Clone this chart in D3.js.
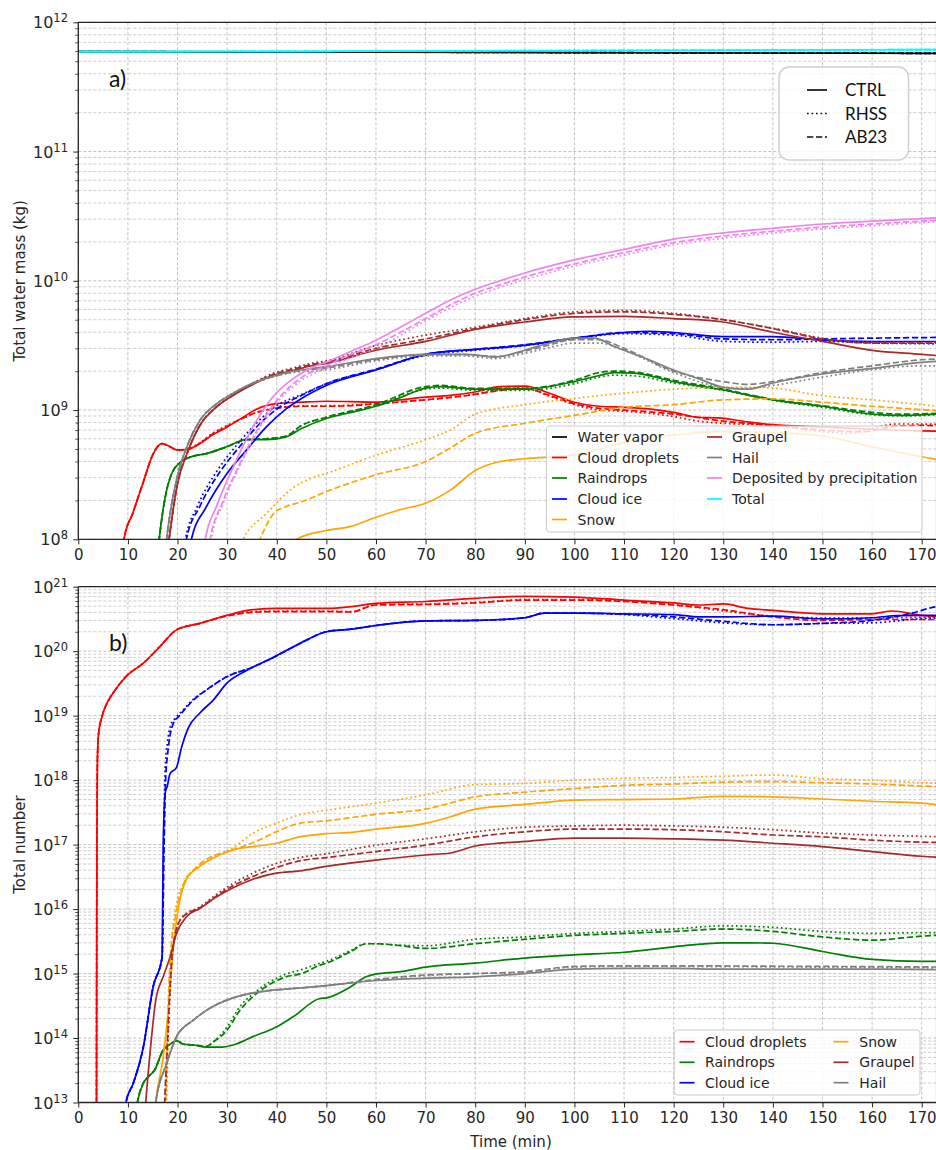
<!DOCTYPE html>
<html>
<head>
<meta charset="utf-8">
<script src="https://cdn.jsdelivr.net/npm/d3@7"></script>
<style>
  body { margin: 0; background: #fff; }
  svg { display: block; }
</style>
</head>
<body>
<svg id="fig" width="936" height="1150"></svg>
<script>
// ---- Time series, [minutes, value] ----------------------------------------
// (a) total water mass per hydrometeor class (kg)
const massVapor = [[0,5.93e11],[45,5.9e11],[100,5.83e11],[175,5.75e11]];
const massTotal = [[0,5.93e11],[45,5.96e11],[100,6.05e11],[175,6.15e11]];

const massCloudCTRL = [[8,3e7],[9.2,1e8],[11,1.6e8],[13,2.7e8],[15,4.5e8],[16.8,5.5e8],[18.5,5.2e8],[20,4.9e8],[22,4.95e8],[24.5,5.5e8],[27,6.4e8],[30,7.4e8],[33,8.7e8],[36,1.02e9],[40,1.12e9],[45,1.15e9],[50,1.17e9],[55,1.16e9],[60,1.15e9],[65,1.2e9],[70,1.26e9],[75,1.3e9],[80,1.38e9],[85,1.52e9],[90,1.53e9],[95,1.35e9],[100,1.15e9],[105,1.07e9],[110,1.05e9],[115,1.02e9],[120,9.6e8],[125,8.8e8],[129,8.7e8],[135,8.1e8],[140,7.7e8],[150,7.4e8],[160,7.1e8],[170,6.9e8],[175,6.85e8]];
const massCloudRHSS = [[8,3e7],[9.2,1e8],[11,1.6e8],[13,2.7e8],[15,4.5e8],[16.8,5.5e8],[18.5,5.2e8],[20,4.9e8],[22,5.0e8],[24.5,5.6e8],[27,6.6e8],[30,7.6e8],[33,8.6e8],[36,9.6e8],[40,1.04e9],[45,1.08e9],[50,1.08e9],[60,1.12e9],[70,1.2e9],[80,1.33e9],[85,1.45e9],[90,1.48e9],[95,1.28e9],[100,1.1e9],[105,1.0e9],[110,9.8e8],[120,8.9e8],[125,8.2e8],[130,7.9e8],[140,7.6e8],[150,6.8e8],[155,6.6e8],[160,7.2e8],[165,7.8e8],[170,7.8e8],[175,7.7e8]];
const massCloudAB23 = [[8,3e7],[9.2,1e8],[11,1.6e8],[13,2.7e8],[15,4.5e8],[16.8,5.5e8],[18.5,5.2e8],[20,4.9e8],[22,4.95e8],[24.5,5.5e8],[27,6.5e8],[30,7.5e8],[33,8.6e8],[36,9.6e8],[40,1.03e9],[45,1.07e9],[50,1.07e9],[55,1.08e9],[60,1.12e9],[70,1.2e9],[80,1.32e9],[85,1.42e9],[90,1.46e9],[95,1.3e9],[100,1.12e9],[105,1.03e9],[110,1.0e9],[120,9.3e8],[130,8.2e8],[140,7.6e8],[150,7.0e8],[158,6.8e8],[165,7.5e8],[170,7.6e8],[175,7.5e8]];

const massRainCTRL = [[15.5,5e7],[16.3,1e8],[17.5,2.1e8],[18.8,3.2e8],[20.8,4e8],[23.2,4.4e8],[25.8,4.6e8],[29.9,5.2e8],[33.9,5.9e8],[37.9,5.9e8],[41.9,6.2e8],[45,7.2e8],[50,8.6e8],[55,9.6e8],[60,1.07e9],[65,1.25e9],[70,1.48e9],[73,1.52e9],[80,1.45e9],[90,1.45e9],[100,1.66e9],[105,1.85e9],[108,1.95e9],[112,1.93e9],[120,1.66e9],[130,1.43e9],[140,1.2e9],[150,1.07e9],[160,9.3e8],[166,9.1e8],[175,9.4e8]];
const massRainRHSS = [[15.5,5e7],[16.3,1e8],[17.5,2.1e8],[18.8,3.2e8],[20.8,4e8],[23.2,4.4e8],[25.8,4.6e8],[29.9,5.2e8],[33.9,5.9e8],[37.9,6.0e8],[41.9,6.3e8],[45,7.6e8],[50,8.8e8],[60,1.08e9],[70,1.45e9],[73,1.48e9],[80,1.42e9],[90,1.42e9],[100,1.6e9],[105,1.8e9],[108,1.86e9],[112,1.84e9],[120,1.62e9],[130,1.42e9],[140,1.19e9],[150,1.05e9],[160,9.2e8],[166,9.0e8],[175,9.3e8]];
const massRainAB23 = [[15.5,5e7],[16.3,1e8],[17.5,2.1e8],[18.8,3.2e8],[20.8,4e8],[23.2,4.4e8],[25.8,4.6e8],[29.9,5.2e8],[33.9,5.9e8],[37.9,6.0e8],[41.9,6.3e8],[45,7.6e8],[50,8.8e8],[60,1.1e9],[70,1.52e9],[73,1.55e9],[80,1.47e9],[90,1.47e9],[100,1.7e9],[105,1.95e9],[108,2.0e9],[112,1.97e9],[120,1.7e9],[130,1.45e9],[140,1.21e9],[150,1.08e9],[160,9.6e8],[166,9.3e8],[175,9.5e8]];

const massIceCTRL = [[22,6e7],[22.8,1e8],[25.8,1.78e8],[29.9,3.2e8],[33.9,4.9e8],[37.9,7.4e8],[41.9,1.02e9],[45,1.23e9],[50,1.55e9],[60,2.04e9],[70,2.7e9],[80,2.95e9],[90,3.16e9],[100,3.6e9],[110,3.98e9],[115,4.07e9],[120,3.98e9],[130,3.7e9],[140,3.7e9],[150,3.47e9],[160,3.39e9],[175,3.39e9]];
const massIceRHSS = [[20.8,6e7],[21.6,1e8],[24,1.8e8],[28,3.4e8],[32,5.4e8],[36,8e8],[40,1.08e9],[45,1.32e9],[50,1.6e9],[60,2.05e9],[70,2.65e9],[80,2.9e9],[90,3.15e9],[100,3.55e9],[110,3.9e9],[120,3.8e9],[130,3.4e9],[140,3.35e9],[150,3.4e9],[160,3.3e9],[175,3.25e9]];
const massIceAB23 = [[21,6e7],[21.8,1e8],[24.5,1.8e8],[28.5,3.3e8],[32.5,5.2e8],[36.5,7.8e8],[40.5,1.05e9],[45,1.3e9],[50,1.6e9],[60,2.07e9],[70,2.7e9],[80,2.95e9],[90,3.2e9],[100,3.6e9],[110,3.98e9],[120,3.9e9],[130,3.55e9],[140,3.5e9],[150,3.55e9],[160,3.6e9],[175,3.65e9]];

const massSnowCTRL = [[42,7e7],[44,1e8],[50,1.17e8],[55,1.26e8],[60,1.48e8],[65,1.7e8],[70,1.9e8],[75,2.4e8],[80,3.4e8],[85,4e8],[90,4.2e8],[100,4.5e8],[105,5e8],[110,5.6e8],[120,6.4e8],[130,6.8e8],[140,6.7e8],[150,6.3e8],[160,5.2e8],[175,4e8]];
const massSnowRHSS = [[31.5,7e7],[33.2,1e8],[37.9,1.58e8],[43.3,2.5e8],[47.3,3e8],[50,3.24e8],[60,4.47e8],[70,5.9e8],[75,7e8],[80,9.3e8],[90,1.1e9],[100,1.23e9],[110,1.35e9],[125,1.48e9],[135,1.5e9],[140,1.48e9],[150,1.29e9],[160,1.2e9],[175,1.05e9]];
const massSnowAB23 = [[35,7e7],[36.6,1e8],[39.5,1.6e8],[42,1.8e8],[45,1.95e8],[50,2.34e8],[60,3.16e8],[70,4e8],[75,5.1e8],[80,6.6e8],[90,7.9e8],[100,9.1e8],[110,1.05e9],[120,1.1e9],[130,1.2e9],[140,1.22e9],[150,1.15e9],[160,1.07e9],[175,9.8e8]];

const massGraupelCTRL = [[17.6,6e7],[18.3,1e8],[20,2.7e8],[22,4.7e8],[24.5,7.6e8],[28,1.07e9],[31.2,1.3e9],[35.2,1.58e9],[39.2,1.85e9],[43.3,2.02e9],[47,2.2e9],[50,2.3e9],[60,2.9e9],[70,3.4e9],[80,4.2e9],[90,4.8e9],[100,5.25e9],[110,5.3e9],[120,5.1e9],[130,4.8e9],[140,4.0e9],[150,3.4e9],[160,2.9e9],[170,2.7e9],[175,2.6e9]];
const massGraupelRHSS = [[17.6,6e7],[18.3,1e8],[20,2.7e8],[22,4.7e8],[24.5,7.6e8],[28,1.07e9],[31.2,1.3e9],[35.2,1.62e9],[39.2,1.92e9],[43.3,2.12e9],[47,2.3e9],[50,2.4e9],[60,3.16e9],[70,3.8e9],[80,4.37e9],[90,5.1e9],[100,5.75e9],[110,5.9e9],[120,5.6e9],[130,5.0e9],[140,4.3e9],[150,3.6e9],[160,3.35e9],[175,3.35e9]];
const massGraupelAB23 = [[17.6,6e7],[18.3,1e8],[20,2.7e8],[22,4.7e8],[24.5,7.6e8],[28,1.07e9],[31.2,1.3e9],[35.2,1.6e9],[39.2,1.88e9],[43.3,2.07e9],[47,2.25e9],[50,2.35e9],[60,3.0e9],[70,3.55e9],[80,4.27e9],[90,5.0e9],[100,5.6e9],[110,5.75e9],[120,5.5e9],[130,5.0e9],[140,4.27e9],[150,3.55e9],[160,3.3e9],[175,3.3e9]];

const massHailCTRL = [[17.2,6e7],[17.8,1e8],[19.8,2.9e8],[21.8,5.1e8],[24.5,8.3e8],[27.9,1.12e9],[31.2,1.35e9],[35.2,1.62e9],[39.2,1.82e9],[43.3,2.0e9],[47.3,2.1e9],[50,2.17e9],[60,2.5e9],[70,2.7e9],[78,2.7e9],[84,2.57e9],[90,2.9e9],[95,3.3e9],[100,3.6e9],[104,3.6e9],[108,3.1e9],[115,2.45e9],[120,2.04e9],[125,1.75e9],[130,1.5e9],[135,1.45e9],[140,1.62e9],[150,1.9e9],[160,2.1e9],[170,2.34e9],[175,2.4e9]];
const massHailRHSS = [[17.2,6e7],[17.8,1e8],[19.8,2.9e8],[21.8,5.1e8],[24.5,8.3e8],[27.9,1.12e9],[31.2,1.35e9],[35.2,1.6e9],[39.2,1.8e9],[43.3,1.95e9],[47.3,2.0e9],[50,2.05e9],[60,2.4e9],[70,2.62e9],[78,2.62e9],[84,2.5e9],[90,2.75e9],[95,3.05e9],[100,3.3e9],[105,3.3e9],[110,2.9e9],[120,1.95e9],[130,1.5e9],[135,1.47e9],[140,1.55e9],[150,1.8e9],[160,2.05e9],[170,2.2e9],[175,2.2e9]];
const massHailAB23 = [[17.2,6e7],[17.8,1e8],[19.8,2.9e8],[21.8,5.1e8],[24.5,8.3e8],[27.9,1.12e9],[31.2,1.35e9],[35.2,1.61e9],[39.2,1.81e9],[43.3,1.98e9],[47.3,2.06e9],[50,2.12e9],[60,2.45e9],[70,2.68e9],[78,2.68e9],[84,2.6e9],[90,2.85e9],[95,3.2e9],[100,3.5e9],[105,3.5e9],[110,3.0e9],[120,2.0e9],[130,1.66e9],[135,1.58e9],[140,1.66e9],[150,1.95e9],[160,2.2e9],[170,2.45e9],[175,2.5e9]];

const massDepositCTRL = [[25,6e7],[25.6,1e8],[27.8,1.78e8],[31.2,3.6e8],[35.2,7.4e8],[39.2,1.26e9],[43.3,1.75e9],[47.3,2.15e9],[50,2.35e9],[55,2.85e9],[60,3.47e9],[65,4.4e9],[70,5.6e9],[75,7.1e9],[80,8.6e9],[85,1.0e10],[90,1.15e10],[100,1.45e10],[110,1.75e10],[120,2.1e10],[130,2.35e10],[140,2.55e10],[150,2.75e10],[160,2.9e10],[175,3.1e10]];
const massDepositRHSS = [[26.2,6e7],[26.8,1e8],[29.2,1.9e8],[32.7,3.8e8],[36.7,7.4e8],[40.7,1.22e9],[45,1.7e9],[50,2.1e9],[55,2.55e9],[60,3.0e9],[65,3.8e9],[70,4.9e9],[75,6.2e9],[80,7.6e9],[85,8.9e9],[90,1.02e10],[100,1.3e10],[110,1.58e10],[120,1.9e10],[130,2.14e10],[140,2.34e10],[150,2.52e10],[160,2.67e10],[175,2.9e10]];
const massDepositAB23 = [[26,6e7],[26.6,1e8],[29,1.9e8],[32.5,3.8e8],[36.5,7.5e8],[40.5,1.25e9],[45,1.78e9],[50,2.2e9],[55,2.7e9],[60,3.2e9],[65,4.0e9],[70,5.1e9],[75,6.5e9],[80,8.0e9],[85,9.3e9],[90,1.07e10],[100,1.35e10],[110,1.65e10],[120,1.97e10],[130,2.22e10],[140,2.42e10],[150,2.6e10],[160,2.75e10],[175,2.97e10]];

// (b) total number of particles per hydrometeor class
const numCloudCTRL = [[3.65,1e12],[3.75,1e17],[3.85,2e18],[4.1,5.4e18],[4.8,9.8e18],[6.1,1.74e19],[7,2.24e19],[9.7,4.1e19],[13.1,6.5e19],[16.4,1.17e20],[19.8,2.14e20],[24.5,2.7e20],[29.9,3.6e20],[35.2,4.4e20],[40,4.6e20],[45,4.6e20],[50,4.6e20],[55,4.9e20],[60,5.5e20],[70,5.9e20],[80,6.6e20],[90,7.1e20],[100,6.9e20],[110,6.2e20],[120,5.6e20],[125,5.2e20],[130,5.4e20],[135,4.6e20],[140,4.3e20],[150,3.8e20],[160,3.8e20],[164,4.2e20],[170,3.6e20],[175,3.4e20]];
const numCloudRHSS = [[3.65,1e12],[3.75,1e17],[3.85,2e18],[4.1,5.4e18],[4.8,9.8e18],[6.1,1.74e19],[7,2.24e19],[9.7,4.1e19],[13.1,6.5e19],[16.4,1.17e20],[19.8,2.14e20],[24.5,2.7e20],[30,3.55e20],[35,4.1e20],[40,4.2e20],[50,4.2e20],[55,4.1e20],[60,5.3e20],[70,5.4e20],[80,5.7e20],[90,6.3e20],[100,6.3e20],[110,6.0e20],[120,5.3e20],[130,4.2e20],[140,3.5e20],[150,3.3e20],[160,3.3e20],[175,3.4e20]];
const numCloudAB23 = [[3.65,1e12],[3.75,1e17],[3.85,2e18],[4.1,5.4e18],[4.8,9.8e18],[6.1,1.74e19],[7,2.24e19],[9.7,4.1e19],[13.1,6.5e19],[16.4,1.17e20],[19.8,2.14e20],[24.5,2.7e20],[29.9,3.5e20],[35.2,4.0e20],[40,4.1e20],[50,4.1e20],[55,4.05e20],[60,5.2e20],[70,5.3e20],[80,5.6e20],[90,6.2e20],[100,6.2e20],[110,5.9e20],[120,5.2e20],[130,4.4e20],[140,3.4e20],[150,3.0e20],[160,3.1e20],[175,3.1e20]];

const numRainCTRL = [[11.3,5e12],[11.9,1e13],[13.1,2e13],[14.1,2.5e13],[15.4,3.2e13],[17.1,6.5e13],[18.5,8e13],[19.8,9.1e13],[21.2,8e13],[23.2,7.8e13],[25.8,7.2e13],[28.5,7.2e13],[31.2,7.8e13],[35.2,1.05e14],[39.9,1.48e14],[43.3,2.14e14],[48.7,4.1e14],[50,4.2e14],[55,6.3e14],[58,8.9e14],[60,9.8e14],[65,1.07e15],[70,1.26e15],[80,1.45e15],[90,1.74e15],[100,1.95e15],[110,2.14e15],[120,2.6e15],[130,3.0e15],[135,3.0e15],[140,2.95e15],[150,2.2e15],[160,1.66e15],[170,1.55e15],[175,1.55e15]];
const numRainRHSS = [[11.3,5e12],[11.9,1e13],[13.1,2e13],[14.1,2.5e13],[15.4,3.2e13],[17.1,6.5e13],[18.5,8e13],[19.8,9.1e13],[21.2,8e13],[23.2,7.8e13],[25.8,7.4e13],[27.2,8.7e13],[29.9,1.45e14],[32.6,3.1e14],[35.2,4.8e14],[37.9,6.9e14],[41.9,9.8e14],[45,1.15e15],[48.7,1.45e15],[50,1.55e15],[55,2.3e15],[58,2.9e15],[60,2.9e15],[65,2.75e15],[70,2.7e15],[80,3.4e15],[90,3.7e15],[100,4.2e15],[110,4.5e15],[120,4.9e15],[130,5.5e15],[140,5.2e15],[150,4.5e15],[160,4.2e15],[170,4.3e15],[175,4.3e15]];
const numRainAB23 = [[11.3,5e12],[11.9,1e13],[13.1,2e13],[14.1,2.5e13],[15.4,3.2e13],[17.1,6.5e13],[18.5,8e13],[19.8,9.1e13],[21.2,8e13],[23.2,7.8e13],[25.8,7.4e13],[27.2,8.7e13],[29.9,1.3e14],[32.6,2.7e14],[35.2,4.4e14],[37.9,6.3e14],[41.9,8.9e14],[45,1.0e15],[48.7,1.35e15],[50,1.45e15],[55,2.2e15],[58,2.9e15],[60,2.9e15],[65,2.7e15],[70,2.45e15],[80,2.9e15],[90,3.4e15],[100,3.9e15],[110,4.2e15],[120,4.5e15],[130,4.9e15],[140,4.5e15],[150,3.7e15],[160,3.3e15],[170,3.8e15],[175,4.0e15]];

const numIceCTRL = [[9,3e12],[9.6,1e13],[11.1,2e13],[13.1,7.2e13],[15.1,6.3e14],[16.9,1.82e15],[17.1,8.3e16],[17.5,6.3e17],[17.9,7.9e17],[18.5,1.26e18],[19.8,1.58e18],[20.8,3.2e18],[22.1,6.3e18],[24.5,1.1e19],[27.2,1.74e19],[29.9,3.16e19],[33.9,5e19],[39.2,7.9e19],[44.6,1.32e20],[50,2.0e20],[55,2.2e20],[60,2.5e20],[70,2.95e20],[80,3.0e20],[90,3.3e20],[94,3.9e20],[100,3.9e20],[110,3.8e20],[120,3.7e20],[125,3.4e20],[130,3.4e20],[140,3.5e20],[150,3.16e20],[160,3.3e20],[165,3.55e20],[175,3.6e20]];
const numIceRHSS = [[9,3e12],[9.6,1e13],[11.1,2e13],[13.1,7.2e13],[15.1,6.3e14],[16.9,1.82e15],[17.2,1e17],[17.5,1.5e18],[18,4e18],[18.6,7e18],[19.5,9e18],[21,1.2e19],[23.2,1.8e19],[25.8,2.5e19],[29.9,4e19],[35,5.6e19],[40,8.5e19],[45,1.35e20],[50,2.0e20],[55,2.2e20],[60,2.5e20],[70,2.95e20],[80,3.0e20],[90,3.3e20],[94,3.9e20],[100,3.9e20],[110,3.7e20],[120,3.2e20],[130,2.75e20],[140,2.57e20],[150,2.7e20],[160,2.75e20],[170,3.2e20],[175,3.3e20]];
const numIceAB23 = [[9,3e12],[9.6,1e13],[11.1,2e13],[13.1,7.2e13],[15.1,6.3e14],[16.9,1.82e15],[17.3,1e17],[17.6,1e18],[18,2.5e18],[18.5,5e18],[19.1,7.4e18],[20.4,1e19],[23.2,1.74e19],[25.8,2.5e19],[29.9,4e19],[35,5.6e19],[40,8.5e19],[45,1.35e20],[50,2.0e20],[55,2.2e20],[60,2.5e20],[70,2.95e20],[80,3.0e20],[90,3.3e20],[94,3.9e20],[100,3.9e20],[110,3.75e20],[120,3.4e20],[130,2.9e20],[140,2.57e20],[150,2.7e20],[160,3.0e20],[168,3.9e20],[173,4.9e20],[175,5.1e20]];

const numSnowCTRL = [[15,3e12],[15.6,1e13],[17.1,5e13],[18.5,5.6e14],[19.1,2.3e15],[20.1,9.8e15],[21.8,2.9e16],[24.5,4.6e16],[28.5,6.9e16],[31.2,8.3e16],[35.2,9.3e16],[39.9,1.05e17],[44.6,1.32e17],[50,1.48e17],[55,1.55e17],[60,1.74e17],[70,2.14e17],[75,2.7e17],[80,3.55e17],[90,4.2e17],[100,4.9e17],[110,5.0e17],[120,5.1e17],[130,5.6e17],[140,5.5e17],[150,5.1e17],[160,4.7e17],[170,4.4e17],[175,4.0e17]];
const numSnowRHSS = [[17.3,3e12],[17.8,1e13],[18.3,5e14],[18.9,4e15],[19.6,1e16],[21.2,2.5e16],[24,4.5e16],[27.2,6.5e16],[31.2,8.9e16],[35.2,1.5e17],[39.9,2.14e17],[44.6,2.9e17],[50,3.4e17],[60,4.4e17],[70,5.9e17],[80,8.5e17],[90,8.9e17],[100,1.0e18],[110,1.07e18],[120,1.1e18],[130,1.15e18],[140,1.2e18],[150,1.05e18],[160,1.0e18],[170,9.1e17],[175,8.9e17]];
const numSnowAB23 = [[17.1,3e12],[17.6,1e13],[18.2,5e14],[18.8,3e15],[19.5,7e15],[21,2.2e16],[23.2,4e16],[26,6e16],[31.2,8.3e16],[35.2,1.07e17],[39.9,1.58e17],[44.6,2.14e17],[50,2.34e17],[60,2.95e17],[70,3.55e17],[80,5.5e17],[90,6.5e17],[100,7.4e17],[110,8.3e17],[120,8.7e17],[130,9.3e17],[140,9.5e17],[150,9.1e17],[160,8.7e17],[170,8.1e17],[175,7.8e17]];

const numGraupelCTRL = [[13,2e12],[13.6,1e13],[14.5,6.3e13],[15.6,3.8e14],[17.1,8.9e14],[18.5,1.8e15],[19.8,4.2e15],[21.8,7.6e15],[24.5,1.02e16],[27.9,1.55e16],[31.2,2.14e16],[35.2,2.9e16],[39.9,3.6e16],[44.6,3.9e16],[50,4.6e16],[60,5.75e16],[70,6.9e16],[75,7.4e16],[80,9.5e16],[90,1.12e17],[100,1.26e17],[110,1.26e17],[120,1.23e17],[130,1.17e17],[140,1.05e17],[150,9.3e16],[160,7.8e16],[170,6.6e16],[175,6.3e16]];
const numGraupelRHSS = [[17,1e12],[17.5,1e13],[18.1,1e14],[18.8,1.3e15],[19.6,4.2e15],[21,7.6e15],[24.5,1.08e16],[27.9,1.7e16],[31.2,2.5e16],[35.2,3.6e16],[39.9,5.1e16],[44.6,6.3e16],[50,7.2e16],[60,9.8e16],[70,1.23e17],[80,1.58e17],[90,1.86e17],[100,1.95e17],[110,2.0e17],[120,1.95e17],[130,1.86e17],[140,1.7e17],[150,1.51e17],[160,1.41e17],[175,1.32e17]];
const numGraupelAB23 = [[16.9,1e12],[17.4,1e13],[18,1e14],[18.7,1.2e15],[19.5,4e15],[21,7.5e15],[24.5,1.05e16],[27.9,1.6e16],[31.2,2.3e16],[35.2,3.2e16],[39.9,4.4e16],[44.6,5.6e16],[50,6.3e16],[60,7.8e16],[70,9.8e16],[80,1.32e17],[90,1.58e17],[100,1.74e17],[110,1.74e17],[120,1.7e17],[130,1.58e17],[140,1.41e17],[150,1.32e17],[160,1.17e17],[175,1.07e17]];

const numHailCTRL = [[15,3e12],[15.6,1e13],[17.8,4e13],[19.8,1.05e14],[23.2,1.9e14],[27.2,3.1e14],[31.2,4.2e14],[35.2,5e14],[40,5.6e14],[45,6.0e14],[50,6.5e14],[60,7.8e14],[70,8.5e14],[80,8.9e14],[90,1.0e15],[100,1.17e15],[110,1.2e15],[120,1.2e15],[130,1.17e15],[140,1.17e15],[150,1.17e15],[160,1.17e15],[175,1.15e15]];
const numHailRHSS = [[15,3e12],[15.6,1e13],[17.8,4e13],[19.8,1.05e14],[23.2,1.9e14],[27.2,3.1e14],[31.2,4.2e14],[35.2,5e14],[40,5.6e14],[45,6.0e14],[50,6.5e14],[60,8.0e14],[70,9.3e14],[80,1.0e15],[90,1.05e15],[100,1.26e15],[110,1.29e15],[140,1.27e15],[175,1.22e15]];
const numHailAB23 = [[15,3e12],[15.6,1e13],[17.8,4e13],[19.8,1.05e14],[23.2,1.9e14],[27.2,3.1e14],[31.2,4.2e14],[35.2,5e14],[40,5.6e14],[45,6.0e14],[50,6.5e14],[60,8.1e14],[70,9.5e14],[80,1.0e15],[90,1.07e15],[100,1.29e15],[110,1.32e15],[120,1.32e15],[140,1.3e15],[160,1.28e15],[175,1.26e15]];

// ---- Category / axis definitions -------------------------------------------
const runNames = ["CTRL", "RHSS", "AB23"];
const runDash = { CTRL: null, RHSS: "1.7,2.8", AB23: "6.3,2.7" };

const massClasses = [
  { label: "Water vapor",                color: "black",   runs: { CTRL: massVapor, RHSS: massVapor, AB23: massVapor } },
  { label: "Cloud droplets",             color: "#ff0000", runs: { CTRL: massCloudCTRL, RHSS: massCloudRHSS, AB23: massCloudAB23 } },
  { label: "Raindrops",                  color: "#008000", runs: { CTRL: massRainCTRL, RHSS: massRainRHSS, AB23: massRainAB23 } },
  { label: "Cloud ice",                  color: "#0000ff", runs: { CTRL: massIceCTRL, RHSS: massIceRHSS, AB23: massIceAB23 } },
  { label: "Snow",                       color: "#ffa500", runs: { CTRL: massSnowCTRL, RHSS: massSnowRHSS, AB23: massSnowAB23 } },
  { label: "Graupel",                    color: "#a52a2a", runs: { CTRL: massGraupelCTRL, RHSS: massGraupelRHSS, AB23: massGraupelAB23 } },
  { label: "Hail",                       color: "#808080", runs: { CTRL: massHailCTRL, RHSS: massHailRHSS, AB23: massHailAB23 } },
  { label: "Deposited by precipitation", color: "#ee82ee", runs: { CTRL: massDepositCTRL, RHSS: massDepositRHSS, AB23: massDepositAB23 } },
  { label: "Total",                      color: "#00ffff", runs: { CTRL: massTotal, RHSS: massTotal, AB23: massTotal } }
];
const numberClasses = [
  { label: "Cloud droplets", color: "#ff0000", runs: { CTRL: numCloudCTRL, RHSS: numCloudRHSS, AB23: numCloudAB23 } },
  { label: "Raindrops",      color: "#008000", runs: { CTRL: numRainCTRL, RHSS: numRainRHSS, AB23: numRainAB23 } },
  { label: "Cloud ice",      color: "#0000ff", runs: { CTRL: numIceCTRL, RHSS: numIceRHSS, AB23: numIceAB23 } },
  { label: "Snow",           color: "#ffa500", runs: { CTRL: numSnowCTRL, RHSS: numSnowRHSS, AB23: numSnowAB23 } },
  { label: "Graupel",        color: "#a52a2a", runs: { CTRL: numGraupelCTRL, RHSS: numGraupelRHSS, AB23: numGraupelAB23 } },
  { label: "Hail",           color: "#808080", runs: { CTRL: numHailCTRL, RHSS: numHailRHSS, AB23: numHailAB23 } }
];

const timeTicks = d3.range(0, 171, 10);
const massDecades = [1e8, 1e9, 1e10, 1e11, 1e12];
const numberDecades = [1e13, 1e14, 1e15, 1e16, 1e17, 1e18, 1e19, 1e20, 1e21];

// ---- Layout ----------------------------------------------------------------
const svg = d3.select("#fig");
const W = 936;
const left = 78.3, right = 936.6;
const x = d3.scaleLinear().domain([0, 173]).range([left, right]);

const panels = [
  { id: "a", top: 22.3, bottom: 539.3, domain: [1e8, 1e12], decades: massDecades,
    classes: massClasses, ylabel: "Total water mass (kg)", tag: "a)" },
  { id: "b", top: 586.7, bottom: 1102.5, domain: [1e13, 1e21], decades: numberDecades,
    classes: numberClasses, ylabel: "Total number", tag: "b)" }
];

const tickFont = "'DejaVu Sans', sans-serif";

panels.forEach(p => {
  const y = d3.scaleLog().domain(p.domain).range([p.bottom, p.top]);
  const g = svg.append("g");

  // minor decade positions
  const minors = [];
  p.decades.slice(0, -1).forEach(d => { for (let m = 2; m <= 9; m++) minors.push(d * m); });

  // grid
  const grid = g.append("g").attr("stroke", "#b0b0b0").attr("stroke-width", 0.8)
    .attr("stroke-dasharray", "3,2").attr("fill", "none");
  minors.forEach(v => grid.append("line")
    .attr("x1", left).attr("x2", W).attr("y1", y(v)).attr("y2", y(v)).attr("stroke-opacity", 0.8));
  p.decades.forEach(v => grid.append("line")
    .attr("x1", left).attr("x2", W).attr("y1", y(v)).attr("y2", y(v)));
  timeTicks.forEach(t => grid.append("line")
    .attr("x1", x(t)).attr("x2", x(t)).attr("y1", p.top).attr("y2", p.bottom));

  // clipping region for the curves
  svg.append("clipPath").attr("id", "clip-" + p.id).append("rect")
    .attr("x", left).attr("y", p.top).attr("width", right - left).attr("height", p.bottom - p.top);

  const line = d3.line().x(d => x(d[0])).y(d => y(d[1])).curve(d3.curveMonotoneX);
  const curves = g.append("g").attr("clip-path", `url(#clip-${p.id})`).attr("fill", "none");
  p.classes.forEach(c => {
    runNames.forEach(r => {
      curves.append("path")
        .attr("d", line(c.runs[r]))
        .attr("stroke", c.color)
        .attr("stroke-width", 1.7)
        .attr("stroke-dasharray", runDash[r])
        .attr("stroke-linejoin", "round");
    });
  });

  // axes
  const xAxis = d3.axisBottom(x).tickValues(timeTicks).tickSize(5).tickPadding(5).tickFormat(d3.format("d"));
  const gx = g.append("g").attr("transform", `translate(0,${p.bottom})`).call(xAxis);
  gx.select(".domain").remove();
  gx.selectAll("line").attr("stroke", "#262626").attr("stroke-width", 1);
  gx.selectAll("text").attr("font-family", tickFont).attr("font-size", 15).attr("fill", "#262626");

  const yMajor = d3.axisLeft(y).tickValues(p.decades).tickSize(5).tickFormat("");
  const gy = g.append("g").attr("transform", `translate(${left},0)`).call(yMajor);
  gy.select(".domain").remove();
  gy.selectAll("line").attr("stroke", "#262626").attr("stroke-width", 1);
  const yMinor = d3.axisLeft(y).tickValues(minors).tickSize(3).tickFormat("");
  const gym = g.append("g").attr("transform", `translate(${left},0)`).call(yMinor);
  gym.select(".domain").remove();
  gym.selectAll("line").attr("stroke", "#262626").attr("stroke-width", 0.8);

  // power-of-ten labels
  p.decades.forEach(v => {
    const t = g.append("text").attr("x", 68).attr("y", y(v) + 6)
      .attr("text-anchor", "end").attr("font-family", tickFont).attr("fill", "#262626");
    t.append("tspan").attr("font-size", 16).text("10");
    t.append("tspan").attr("font-size", 11.5).attr("dy", -6).text(String(Math.round(Math.log10(v))));
  });

  // spines
  const sp = g.append("g").attr("stroke", "#262626").attr("stroke-width", 1.3);
  sp.append("line").attr("x1", left).attr("x2", left).attr("y1", p.top).attr("y2", p.bottom);
  sp.append("line").attr("x1", left).attr("x2", right).attr("y1", p.bottom).attr("y2", p.bottom);
  sp.append("line").attr("x1", left).attr("x2", right).attr("y1", p.top).attr("y2", p.top);
  sp.append("line").attr("x1", right).attr("x2", right).attr("y1", p.top).attr("y2", p.bottom);

  // y label
  g.append("text")
    .attr("transform", `translate(25,${(p.top + p.bottom) / 2}) rotate(-90)`)
    .attr("text-anchor", "middle").attr("font-family", tickFont).attr("font-size", 15)
    .attr("fill", "#262626").text(p.ylabel);

  // panel tag
  g.append("text").attr("x", 109).attr("y", 87 + p.top - 22.3)
    .attr("font-family", "Lato, 'Open Sans', sans-serif").attr("font-size", 23)
    .attr("fill", "#111").text(p.tag);
});

// x label on the lower panel
svg.append("text").attr("x", 511).attr("y", 1147).attr("text-anchor", "middle")
  .attr("font-family", tickFont).attr("font-size", 15).attr("fill", "#262626").text("Time (min)");

// ---- Legends ---------------------------------------------------------------
function colorLegend(items, box, cols, rowY) {
  const g = svg.append("g");
  g.append("rect").attr("x", box.x).attr("y", box.y).attr("width", box.w).attr("height", box.h)
    .attr("rx", 3).attr("fill", "#fff").attr("fill-opacity", 0.8)
    .attr("stroke", "#cccccc").attr("stroke-width", 1);
  items.forEach((it, i) => {
    const col = cols[Math.floor(i / rowY.length)];
    const yy = rowY[i % rowY.length];
    g.append("line").attr("x1", col.line).attr("x2", col.line + 15).attr("y1", yy).attr("y2", yy)
      .attr("stroke", it.color).attr("stroke-width", 1.7);
    g.append("text").attr("x", col.text).attr("y", yy + 5).attr("font-family", tickFont)
      .attr("font-size", 14).attr("fill", "#262626").text(it.label);
  });
}

colorLegend(massClasses, { x: 546.5, y: 426, w: 375.5, h: 106 },
  [{ line: 552, text: 577.5 }, { line: 707, text: 732 }], [437, 457.5, 478, 499, 519.5]);
colorLegend(numberClasses, { x: 674.3, y: 1030, w: 245.7, h: 65 },
  [{ line: 679.5, text: 705 }, { line: 833.5, text: 859.3 }], [1041.7, 1062.3, 1082.7]);

// line-style legend (runs)
const lg = svg.append("g");
lg.append("rect").attr("x", 779).attr("y", 67).attr("width", 129.5).attr("height", 93)
  .attr("rx", 10).attr("fill", "#fff").attr("fill-opacity", 0.8)
  .attr("stroke", "#d0d0d0").attr("stroke-width", 1.5);
runNames.forEach((r, i) => {
  const yy = 90 + i * 23.5;
  lg.append("line").attr("x1", 807).attr("x2", 827).attr("y1", yy).attr("y2", yy)
    .attr("stroke", "#111").attr("stroke-width", 1.7).attr("stroke-dasharray", runDash[r]);
  lg.append("text").attr("x", 845).attr("y", yy + 6).attr("font-family", "Lato, 'Open Sans', sans-serif")
    .attr("font-size", 17).attr("fill", "#111").text(r);
});
</script>
</body>
</html>
